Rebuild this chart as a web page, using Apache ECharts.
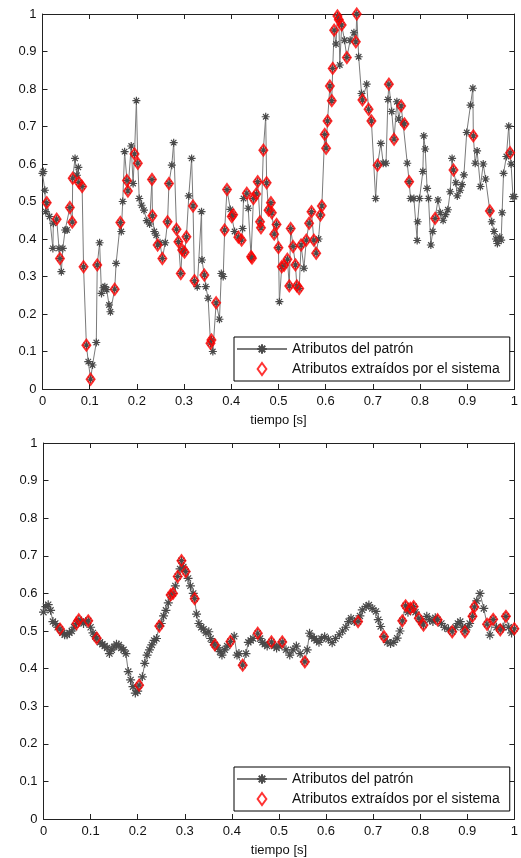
<!DOCTYPE html>
<html>
<head>
<meta charset="utf-8">
<script src="https://cdn.jsdelivr.net/npm/echarts@6/dist/echarts.min.js"></script>
<style>
html,body{margin:0;padding:0;background:#fff;}
#chart{width:521px;height:858px;}
</style>
</head>
<body>
<div id="chart"></div>
<script>
// ---- data ----
const seriesNames = ['Atributos del patrón', 'Atributos extraídos por el sistema'];
const xAxisName = 'tiempo [s]';
const axisMin = 0, axisMax = 1, axisStep = 0.1;

const topPattern = [
[0.000,0.575],[0.002,0.58],[0.005,0.53],[0.007,0.473],[0.009,0.497],[0.015,0.46],[0.022,0.375],[0.023,0.442],[0.030,0.453],[0.035,0.375],[0.037,0.348],[0.040,0.313],[0.043,0.375],[0.048,0.424],[0.052,0.424],[0.058,0.484],[0.063,0.445],[0.064,0.562],[0.069,0.615],[0.073,0.57],[0.076,0.591],[0.077,0.551],[0.084,0.54],[0.087,0.326],[0.093,0.117],[0.097,0.073],[0.102,0.026],[0.106,0.064],[0.114,0.124],[0.116,0.331],[0.121,0.39],[0.125,0.255],[0.129,0.27],[0.132,0.273],[0.136,0.265],[0.141,0.224],[0.144,0.206],[0.153,0.266],[0.156,0.335],[0.165,0.444],[0.167,0.42],[0.170,0.5],[0.174,0.633],[0.179,0.556],[0.181,0.528],[0.188,0.648],[0.192,0.548],[0.195,0.627],[0.199,0.769],[0.202,0.602],[0.205,0.508],[0.210,0.49],[0.215,0.477],[0.221,0.449],[0.227,0.44],[0.232,0.559],[0.233,0.462],[0.237,0.42],[0.241,0.41],[0.244,0.384],[0.249,0.39],[0.254,0.348],[0.260,0.39],[0.265,0.446],[0.268,0.548],[0.274,0.597],[0.278,0.657],[0.284,0.426],[0.288,0.393],[0.293,0.308],[0.296,0.371],[0.301,0.365],[0.305,0.406],[0.310,0.515],[0.316,0.615],[0.319,0.488],[0.322,0.289],[0.328,0.273],[0.337,0.473],[0.338,0.344],[0.343,0.304],[0.346,0.273],[0.351,0.242],[0.356,0.122],[0.358,0.131],[0.361,0.1],[0.368,0.23],[0.375,0.186],[0.379,0.308],[0.383,0.3],[0.386,0.424],[0.391,0.532],[0.398,0.479],[0.401,0.46],[0.404,0.465],[0.407,0.42],[0.415,0.405],[0.422,0.397],[0.424,0.428],[0.426,0.508],[0.433,0.522],[0.436,0.482],[0.442,0.353],[0.444,0.349],[0.447,0.508],[0.453,0.52],[0.456,0.553],[0.461,0.446],[0.463,0.43],[0.468,0.637],[0.473,0.726],[0.475,0.55],[0.479,0.477],[0.484,0.497],[0.486,0.47],[0.491,0.413],[0.496,0.439],[0.500,0.377],[0.502,0.233],[0.507,0.326],[0.512,0.33],[0.519,0.346],[0.523,0.275],[0.526,0.428],[0.531,0.38],[0.536,0.331],[0.539,0.275],[0.544,0.268],[0.548,0.384],[0.554,0.322],[0.559,0.397],[0.565,0.442],[0.570,0.473],[0.575,0.397],[0.580,0.362],[0.585,0.4],[0.589,0.464],[0.592,0.488],[0.598,0.679],[0.601,0.642],[0.604,0.715],[0.609,0.808],[0.613,0.769],[0.615,0.855],[0.618,0.957],[0.622,0.92],[0.625,0.995],[0.628,0.985],[0.630,0.864],[0.634,0.971],[0.640,0.93],[0.645,0.884],[0.652,0.93],[0.660,0.95],[0.664,0.926],[0.666,1.0],[0.670,0.886],[0.676,0.788],[0.678,0.771],[0.687,0.813],[0.691,0.746],[0.697,0.715],[0.706,0.508],[0.710,0.597],[0.717,0.655],[0.722,0.602],[0.728,0.602],[0.732,0.772],[0.734,0.813],[0.740,0.74],[0.745,0.666],[0.751,0.766],[0.755,0.72],[0.760,0.755],[0.764,0.71],[0.767,0.707],[0.773,0.602],[0.777,0.553],[0.780,0.508],[0.787,0.508],[0.794,0.396],[0.795,0.446],[0.799,0.508],[0.806,0.58],[0.808,0.675],[0.811,0.64],[0.815,0.535],[0.818,0.508],[0.823,0.384],[0.827,0.42],[0.832,0.455],[0.838,0.504],[0.843,0.47],[0.849,0.45],[0.854,0.465],[0.859,0.478],[0.864,0.526],[0.868,0.615],[0.871,0.584],[0.876,0.55],[0.879,0.515],[0.885,0.53],[0.889,0.545],[0.893,0.571],[0.899,0.684],[0.907,0.757],[0.912,0.802],[0.913,0.675],[0.917,0.602],[0.921,0.635],[0.928,0.54],[0.934,0.6],[0.939,0.56],[0.948,0.475],[0.952,0.446],[0.957,0.42],[0.961,0.4],[0.964,0.388],[0.969,0.405],[0.972,0.397],[0.974,0.47],[0.977,0.575],[0.983,0.62],[0.988,0.701],[0.991,0.63],[0.993,0.6],[0.997,0.513],[1.000,0.513]
];

const topExtracted = [
[0.009,0.497],[0.030,0.453],[0.037,0.348],[0.058,0.484],[0.063,0.445],[0.064,0.562],[0.077,0.551],[0.084,0.54],[0.087,0.326],[0.093,0.117],[0.102,0.026],[0.116,0.331],[0.153,0.266],[0.165,0.444],[0.179,0.556],[0.181,0.528],[0.195,0.627],[0.202,0.602],[0.232,0.559],[0.233,0.462],[0.244,0.384],[0.254,0.348],[0.265,0.446],[0.268,0.548],[0.284,0.426],[0.288,0.393],[0.293,0.308],[0.296,0.371],[0.301,0.365],[0.305,0.406],[0.319,0.488],[0.322,0.289],[0.343,0.304],[0.356,0.122],[0.358,0.131],[0.368,0.23],[0.386,0.424],[0.391,0.532],[0.401,0.46],[0.404,0.465],[0.415,0.405],[0.422,0.397],[0.433,0.522],[0.442,0.353],[0.444,0.349],[0.447,0.508],[0.453,0.52],[0.456,0.553],[0.461,0.446],[0.463,0.43],[0.468,0.637],[0.475,0.55],[0.479,0.477],[0.484,0.497],[0.486,0.47],[0.491,0.413],[0.496,0.439],[0.500,0.377],[0.507,0.326],[0.512,0.33],[0.519,0.346],[0.523,0.275],[0.526,0.428],[0.531,0.38],[0.536,0.331],[0.539,0.275],[0.544,0.268],[0.548,0.384],[0.559,0.397],[0.565,0.442],[0.570,0.473],[0.575,0.397],[0.580,0.362],[0.589,0.464],[0.592,0.488],[0.598,0.679],[0.601,0.642],[0.604,0.715],[0.609,0.808],[0.613,0.769],[0.615,0.855],[0.618,0.957],[0.625,0.995],[0.628,0.985],[0.634,0.971],[0.645,0.884],[0.664,0.926],[0.666,1.0],[0.678,0.771],[0.691,0.746],[0.697,0.715],[0.710,0.597],[0.734,0.813],[0.745,0.666],[0.760,0.755],[0.767,0.707],[0.777,0.553],[0.832,0.455],[0.871,0.584],[0.913,0.675],[0.948,0.475],[0.991,0.63]
];

const bottomPattern = [
[0.000,0.55],[0.005,0.565],[0.010,0.57],[0.015,0.555],[0.020,0.525],[0.025,0.52],[0.030,0.51],[0.035,0.505],[0.040,0.495],[0.045,0.49],[0.050,0.49],[0.055,0.495],[0.060,0.5],[0.065,0.51],[0.070,0.52],[0.075,0.53],[0.080,0.525],[0.085,0.52],[0.090,0.525],[0.095,0.527],[0.100,0.51],[0.105,0.495],[0.110,0.485],[0.113,0.481],[0.120,0.47],[0.125,0.465],[0.130,0.46],[0.135,0.455],[0.140,0.44],[0.145,0.45],[0.150,0.458],[0.155,0.465],[0.160,0.463],[0.165,0.455],[0.170,0.45],[0.175,0.44],[0.180,0.392],[0.185,0.37],[0.190,0.352],[0.195,0.335],[0.200,0.34],[0.203,0.356],[0.210,0.378],[0.215,0.414],[0.220,0.436],[0.225,0.45],[0.230,0.463],[0.235,0.475],[0.240,0.48],[0.246,0.513],[0.250,0.52],[0.255,0.54],[0.260,0.555],[0.265,0.575],[0.270,0.596],[0.275,0.6],[0.280,0.62],[0.285,0.645],[0.290,0.665],[0.293,0.687],[0.297,0.67],[0.302,0.658],[0.307,0.64],[0.312,0.62],[0.318,0.6],[0.321,0.586],[0.325,0.545],[0.330,0.52],[0.335,0.51],[0.340,0.505],[0.345,0.495],[0.351,0.498],[0.355,0.48],[0.360,0.47],[0.364,0.463],[0.370,0.455],[0.375,0.445],[0.379,0.436],[0.385,0.45],[0.390,0.46],[0.397,0.472],[0.405,0.486],[0.411,0.436],[0.415,0.44],[0.423,0.409],[0.430,0.44],[0.435,0.47],[0.440,0.475],[0.445,0.48],[0.455,0.494],[0.460,0.48],[0.465,0.47],[0.470,0.465],[0.475,0.46],[0.484,0.471],[0.490,0.46],[0.495,0.455],[0.500,0.46],[0.507,0.471],[0.515,0.45],[0.523,0.436],[0.530,0.45],[0.537,0.46],[0.545,0.44],[0.555,0.418],[0.560,0.45],[0.565,0.494],[0.570,0.485],[0.575,0.48],[0.580,0.475],[0.585,0.47],[0.590,0.48],[0.597,0.485],[0.605,0.478],[0.613,0.469],[0.620,0.48],[0.628,0.49],[0.635,0.5],[0.642,0.51],[0.648,0.525],[0.653,0.534],[0.660,0.525],[0.668,0.525],[0.672,0.54],[0.677,0.556],[0.685,0.565],[0.691,0.569],[0.698,0.56],[0.706,0.552],[0.711,0.53],[0.716,0.512],[0.723,0.485],[0.730,0.47],[0.737,0.467],[0.744,0.47],[0.751,0.481],[0.757,0.5],[0.762,0.527],[0.769,0.567],[0.774,0.55],[0.779,0.56],[0.786,0.565],[0.790,0.55],[0.797,0.534],[0.802,0.525],[0.807,0.516],[0.814,0.539],[0.820,0.53],[0.827,0.525],[0.832,0.535],[0.837,0.53],[0.845,0.52],[0.852,0.51],[0.860,0.505],[0.868,0.498],[0.875,0.51],[0.880,0.52],[0.885,0.525],[0.890,0.51],[0.895,0.498],[0.900,0.51],[0.905,0.52],[0.911,0.539],[0.915,0.564],[0.920,0.58],[0.927,0.6],[0.935,0.56],[0.942,0.518],[0.948,0.489],[0.955,0.531],[0.962,0.51],[0.970,0.503],[0.976,0.51],[0.982,0.539],[0.988,0.51],[0.994,0.495],[1.000,0.506]
];

const bottomExtracted = [
[0.035,0.505],[0.070,0.52],[0.075,0.53],[0.095,0.527],[0.113,0.481],[0.203,0.356],[0.246,0.513],[0.270,0.596],[0.275,0.6],[0.285,0.645],[0.293,0.687],[0.302,0.658],[0.321,0.586],[0.364,0.463],[0.397,0.472],[0.423,0.409],[0.455,0.494],[0.484,0.471],[0.507,0.471],[0.555,0.418],[0.668,0.525],[0.723,0.485],[0.762,0.527],[0.769,0.567],[0.779,0.56],[0.786,0.565],[0.797,0.534],[0.807,0.516],[0.837,0.53],[0.868,0.498],[0.895,0.498],[0.911,0.539],[0.915,0.564],[0.942,0.518],[0.955,0.531],[0.970,0.503],[0.982,0.539],[1.000,0.506]
];

// ---- styling ----
const FONT = 'Liberation Sans, Arial, Helvetica, sans-serif';
const AXIS_COLOR = '#222';
const STAR = 'path://M5,0L5,10M0,5L10,5M1.6,1.6L8.4,8.4M1.6,8.4L8.4,1.6';
const DIAMOND_ICON = 'path://M4,0L8,5.5L4,11L0,5.5Z';

function makeX(gridIndex, position, labels) {
  return {
    type: 'value', gridIndex: gridIndex, position: position,
    min: axisMin, max: axisMax, interval: axisStep,
    name: labels ? xAxisName : '', nameLocation: 'middle', nameGap: 25,
    nameTextStyle: {color: '#111', fontSize: 13, fontFamily: FONT},
    axisLine: {show: true, onZero: false, lineStyle: {color: AXIS_COLOR, width: 1}},
    axisTick: {show: true, inside: true, length: 5, lineStyle: {color: AXIS_COLOR}},
    axisLabel: {show: labels, color: '#111', fontSize: 13, fontFamily: FONT, margin: 6},
    splitLine: {show: false}
  };
}
function makeY(gridIndex, position, labels) {
  return {
    type: 'value', gridIndex: gridIndex, position: position,
    min: axisMin, max: axisMax, interval: axisStep,
    axisLine: {show: true, onZero: false, lineStyle: {color: AXIS_COLOR, width: 1}},
    axisTick: {show: true, inside: true, length: 5, lineStyle: {color: AXIS_COLOR}},
    axisLabel: {show: labels, color: '#111', fontSize: 13, fontFamily: FONT, margin: 6},
    splitLine: {show: false}
  };
}
function patternSeries(data, xi, yi, size) {
  return {
    type: 'line', name: seriesNames[0], data: data,
    xAxisIndex: xi, yAxisIndex: yi,
    symbol: STAR, symbolSize: size, showSymbol: true, showAllSymbol: true,
    lineStyle: {color: '#7a7a7a', width: 1},
    itemStyle: {color: '#4a4a4a', borderColor: '#4a4a4a', borderWidth: 1.2},
    emphasis: {disabled: true}, z: 2
  };
}
function extractedSeries(data, xi, yi) {
  return {
    type: 'scatter', name: seriesNames[1], data: data,
    xAxisIndex: xi, yAxisIndex: yi,
    symbol: 'diamond', symbolSize: [8, 11],
    itemStyle: {color: 'rgba(0,0,0,0)', borderColor: '#ff0000', borderWidth: 2},
    emphasis: {disabled: true}, z: 3
  };
}
function makeLegend(top) {
  return {
    orient: 'vertical', left: 234, top: top,
    data: [
      {name: seriesNames[0]},
      {name: seriesNames[1], icon: DIAMOND_ICON}
    ],
    symbolKeepAspect: true,
    itemWidth: 50, itemHeight: 12, itemGap: 6,
    padding: [5, 10, 5, 2],
    backgroundColor: '#fff', borderColor: '#000', borderWidth: 1,
    textStyle: {color: '#111', fontSize: 14, fontFamily: FONT},
    selectedMode: false, z: 10
  };
}

const chart = echarts.init(document.getElementById('chart'), null, {renderer: 'canvas'});
chart.setOption({
  animation: false,
  backgroundColor: '#fff',
  textStyle: {fontFamily: FONT},
  grid: [
    {left: 42.5, top: 14, width: 475.5, height: 375},
    {left: 43.5, top: 443, width: 474.5, height: 376}
  ],
  xAxis: [makeX(0, 'bottom', true), makeX(0, 'top', false), makeX(1, 'bottom', true), makeX(1, 'top', false)],
  yAxis: [makeY(0, 'left', true), makeY(0, 'right', false), makeY(1, 'left', true), makeY(1, 'right', false)],
  legend: [makeLegend(337), makeLegend(767)],
  series: [
    patternSeries(topPattern, 0, 0, 8),
    extractedSeries(topExtracted, 0, 0),
    patternSeries(bottomPattern, 2, 2, 9),
    extractedSeries(bottomExtracted, 2, 2)
  ]
});
</script>
</body>
</html>
